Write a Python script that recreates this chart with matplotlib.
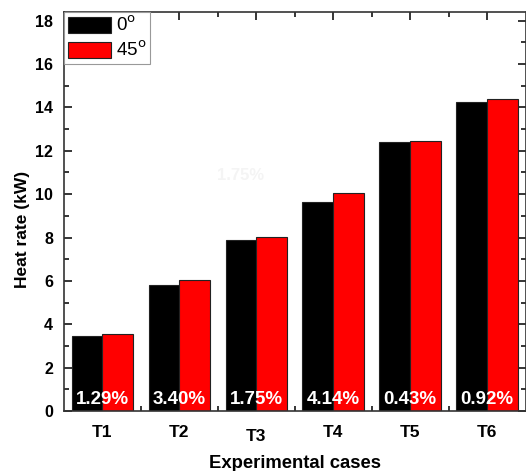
import matplotlib
matplotlib.use("Agg")
import matplotlib.pyplot as plt
from matplotlib.ticker import MultipleLocator, FixedLocator
import numpy as np

plt.rcParams["font.family"] = ["Liberation Sans", "DejaVu Sans"]

cases = ["T1", "T2", "T3", "T4", "T5", "T6"]
heat_0deg = [3.48, 5.83, 7.88, 9.65, 12.42, 14.26]
heat_45deg = [3.53, 6.03, 8.01, 10.05, 12.47, 14.39]
diff_labels = ["1.29%", "3.40%", "1.75%", "4.14%", "0.43%", "0.92%"]

x = np.arange(1, len(cases) + 1)
width = 0.4

fig = plt.figure(figsize=(5.26, 4.71), dpi=100)
ax = fig.add_axes([64 / 526, 1 - 411 / 471, 461.5 / 526, 399 / 471])

b0 = ax.bar(x - width / 2, heat_0deg, width, color="black", edgecolor="#222222",
            linewidth=0.8, label="0$^{\\rm o}$", zorder=2)
b45 = ax.bar(x + width / 2, heat_45deg, width, color="#ff0000", edgecolor="#222222",
             linewidth=0.8, label="45$^{\\rm o}$", zorder=2)

for xi, lab in zip(x, diff_labels):
    ax.text(xi, 0.55, lab, color="white", fontsize=13.5, fontweight="bold",
            ha="center", va="center", zorder=3)

# faint ghost of a label seen in the original image
ax.text(2.8, 10.85, "1.75%", color="#f4f4f4", fontsize=12, fontweight="bold",
        ha="center", va="center", zorder=1)

ax.set_xlim(0.5, 6.5)
ax.set_ylim(0, 18.4)
ax.set_xticks(x)
ax.set_xticklabels(cases)
ax.xaxis.set_minor_locator(FixedLocator(x[:-1] + 0.5))
ax.yaxis.set_major_locator(MultipleLocator(2))
ax.yaxis.set_minor_locator(MultipleLocator(1))

ax.tick_params(which="both", direction="in", top=True, right=True, width=1.1)
ax.tick_params(which="major", length=6)
ax.tick_params(which="minor", length=3.5)
ax.tick_params(axis="y", labelsize=11.5, pad=8)
ax.tick_params(axis="x", labelsize=12.5, pad=10)
for lab in ax.get_yticklabels() + ax.get_xticklabels():
    lab.set_fontweight("bold")
ax.get_xticklabels()[2].set_y(-0.01)

for sp in ax.spines.values():
    sp.set_linewidth(1.2)
    sp.set_color("#333333")

ax.set_xlabel("Experimental cases", fontsize=13.3, fontweight="bold", labelpad=8)
ax.set_ylabel("Heat rate (kW)", fontsize=12.5, fontweight="bold")
ax.yaxis.set_label_coords(-0.073, 0.456)

leg = ax.legend(loc="upper left", borderaxespad=0, fontsize=13.5, fancybox=False,
                handlelength=2.3, handleheight=0.95, handletextpad=0.25,
                labelspacing=0.3, borderpad=0.2, framealpha=1)
leg.get_frame().set_edgecolor("#999999")
leg.get_frame().set_linewidth(0.8)

fig.savefig("out.png", dpi=100)
